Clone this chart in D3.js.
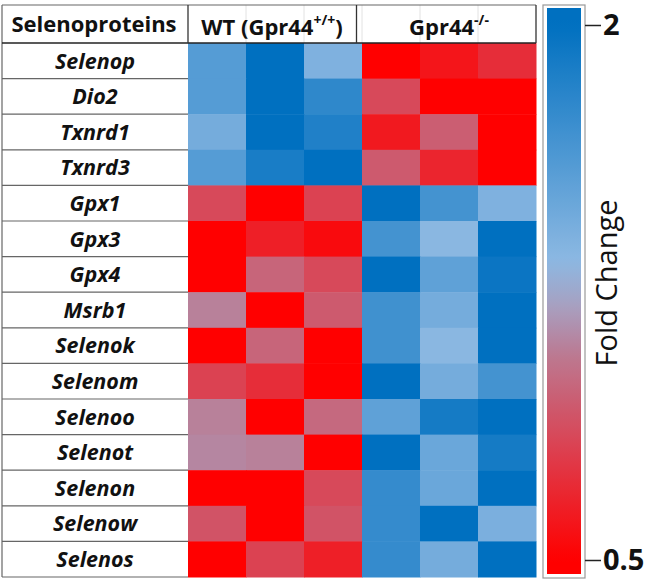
<!DOCTYPE html>
<html>
<head>
<meta charset="utf-8">
<script src="https://cdn.jsdelivr.net/npm/d3@7"></script>
<style>
  body { margin: 0; background: #fff; }
  text { font-family: "Open Sans", Lato, sans-serif; }
</style>
</head>
<body>
<svg id="chart" width="647" height="581"></svg>
<script>
// data
var genes = ["Selenop", "Dio2", "Txnrd1", "Txnrd3", "Gpx1", "Gpx3", "Gpx4", "Msrb1",
  "Selenok", "Selenom", "Selenoo", "Selenot", "Selenon", "Selenow", "Selenos"];
var samples = ["WT1", "WT2", "WT3", "KO1", "KO2", "KO3"];
var groups = ["WT (Gpr44", "Gpr44"];
var groupSup = ["+/+", "-/-"];
// fold change, rows = genes, cols = samples
var foldChange = [
  [1.60, 2.00, 1.40, 0.50, 0.60, 0.72],
  [1.60, 2.00, 1.78, 0.85, 0.50, 0.50],
  [1.45, 2.00, 1.85, 0.62, 0.95, 0.50],
  [1.60, 1.88, 2.00, 0.93, 0.68, 0.50],
  [0.85, 0.50, 0.82, 2.00, 1.68, 1.40],
  [0.50, 0.65, 0.55, 1.68, 1.35, 2.00],
  [0.50, 0.98, 0.85, 2.00, 1.55, 1.95],
  [1.10, 0.50, 0.93, 1.70, 1.45, 2.00],
  [0.50, 0.98, 0.50, 1.70, 1.35, 2.00],
  [0.82, 0.72, 0.50, 2.00, 1.45, 1.68],
  [1.10, 0.50, 1.00, 1.55, 1.90, 2.00],
  [1.12, 1.10, 0.50, 2.00, 1.50, 1.90],
  [0.50, 0.50, 0.85, 1.75, 1.50, 2.00],
  [0.90, 0.50, 0.90, 1.75, 2.00, 1.42],
  [0.50, 0.82, 0.65, 1.75, 1.45, 2.00]
];
var legendTicks = [0.5, 2];

var svg = d3.select("#chart");

// -----------------------------------------------------------------------------
// Scales
// -----------------------------------------------------------------------------
var xScale = d3.scaleBand().domain(samples).range([188, 536]);
var yScale = d3.scaleBand().domain(genes).range([43, 577]);

var color = d3.scaleLinear()
    .domain([0.5, 0.81, 1.07, 1.21, 1.34, 2.0])
    .range(["#ff0000", "#dc4050", "#bc7890", "#a8a0c0", "#8cb8e2", "#0070c0"])
    .clamp(true);

// -----------------------------------------------------------------------------
// Heatmap cells
// -----------------------------------------------------------------------------
var cells = [];
genes.forEach(function(g, i) {
  samples.forEach(function(s, j) {
    cells.push({gene: g, sample: s, value: foldChange[i][j]});
  });
});

svg.append("g").selectAll("rect")
    .data(cells)
  .enter().append("rect")
    .attr("x", function(d) { return xScale(d.sample); })
    .attr("y", function(d) { return yScale(d.gene); })
    .attr("width", xScale.bandwidth() + 0.5)
    .attr("height", yScale.bandwidth() + 0.5)
    .attr("fill", function(d) { return color(d.value); });

// -----------------------------------------------------------------------------
// Label column + header
// -----------------------------------------------------------------------------
var lineColor = "#666";
var labelG = svg.append("g");

// faint sheet gridlines in the header
samples.slice(1).forEach(function(s) {
  labelG.append("line")
      .attr("x1", xScale(s)).attr("x2", xScale(s)).attr("y1", 5).attr("y2", 43)
      .attr("stroke", "#e2e2e2").attr("stroke-width", 1);
});

genes.forEach(function(g) {
  labelG.append("line")
      .attr("x1", 2).attr("x2", 188)
      .attr("y1", yScale(g) + yScale.bandwidth())
      .attr("y2", yScale(g) + yScale.bandwidth())
      .attr("stroke", lineColor).attr("stroke-width", 1.2);
});

labelG.selectAll("text.gene")
    .data(genes)
  .enter().append("text")
    .attr("class", "gene")
    .attr("x", 95)
    .attr("y", function(d) { return yScale(d) + yScale.bandwidth() / 2; })
    .attr("dy", "0.36em")
    .attr("text-anchor", "middle")
    .attr("font-size", 21.5)
    .attr("font-weight", "bold")
    .attr("font-style", "italic")
    .attr("fill", "#111")
    .text(function(d) { return d; });

// borders
labelG.append("line").attr("x1", 2).attr("x2", 2).attr("y1", 5).attr("y2", 577)
    .attr("stroke", lineColor).attr("stroke-width", 1.2);
labelG.append("line").attr("x1", 2).attr("x2", 536).attr("y1", 5).attr("y2", 5)
    .attr("stroke", lineColor).attr("stroke-width", 1.2);
labelG.append("line").attr("x1", 2).attr("x2", 536).attr("y1", 43).attr("y2", 43)
    .attr("stroke", "#222").attr("stroke-width", 1.5);
[188, 356.5, 536].forEach(function(x) {
  labelG.append("line").attr("x1", x).attr("x2", x).attr("y1", 5).attr("y2", 43)
      .attr("stroke", "#333").attr("stroke-width", 1.3);
});

labelG.append("text")
    .attr("x", 94).attr("y", 24).attr("dy", "0.36em")
    .attr("text-anchor", "middle")
    .attr("font-size", 22).attr("font-weight", "bold").attr("fill", "#111")
    .text("Selenoproteins");

var groupCenters = [272, 449];
groups.forEach(function(g, i) {
  var t = labelG.append("text")
      .attr("x", groupCenters[i]).attr("y", 27).attr("dy", "0.36em")
      .attr("text-anchor", "middle")
      .attr("font-size", 22).attr("font-weight", "bold").attr("fill", "#111");
  t.append("tspan").text(g);
  t.append("tspan").attr("font-size", 14).attr("dy", "-0.7em").text(groupSup[i]);
  if (i === 0) t.append("tspan").attr("dy", "0.45em").text(")");
});

// -----------------------------------------------------------------------------
// Colour bar
// -----------------------------------------------------------------------------
var barTop = 8, barBottom = 574, barX = 547, barW = 34;
var legendY = d3.scaleLinear().domain([0.5, 2]).range([560, 25]);

var grad = svg.append("defs").append("linearGradient")
    .attr("id", "fcGrad")
    .attr("x1", 0).attr("x2", 0).attr("y1", 0).attr("y2", 1);
d3.range(0, 1.0001, 0.02).forEach(function(f) {
  var v = legendY.invert(barTop + f * (barBottom - barTop));
  grad.append("stop").attr("offset", f).attr("stop-color", color(v));
});

svg.append("rect")
    .attr("x", 543).attr("y", 5).attr("width", 42).attr("height", 573)
    .attr("fill", "#fff").attr("stroke", "#999").attr("stroke-width", 1.2);
svg.append("rect")
    .attr("x", barX).attr("y", barTop).attr("width", barW).attr("height", barBottom - barTop)
    .attr("fill", "url(#fcGrad)");

var axis = d3.axisRight(legendY).tickValues(legendTicks)
    .tickFormat(d3.format("")).tickSize(16).tickPadding(2);
var axisG = svg.append("g")
    .attr("transform", "translate(585,0)")
    .call(axis);
axisG.select(".domain").remove();
axisG.selectAll(".tick line").attr("stroke", "#222").attr("stroke-width", 1.5);
axisG.selectAll(".tick text")
    .attr("font-family", "'Liberation Sans', Arial, sans-serif")
    .attr("font-size", 29).attr("font-weight", "bold").attr("fill", "#111");

svg.append("text")
    .attr("transform", "translate(617,283) rotate(-90)")
    .attr("text-anchor", "middle")
    .attr("font-family", "'Liberation Sans', Arial, sans-serif")
    .attr("font-size", 29).attr("fill", "#111")
    .text("Fold Change");
</script>
</body>
</html>
